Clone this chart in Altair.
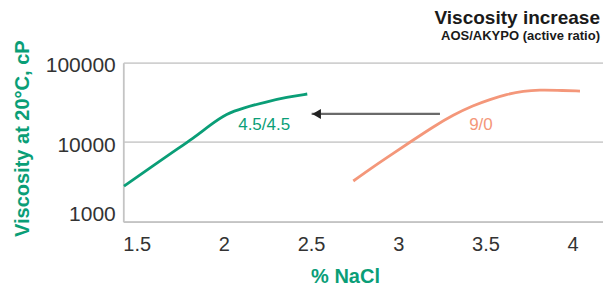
import altair as alt
import pandas as pd

# ---- data ----
green_nacl = [1.427, 1.710, 1.824, 1.920, 2.016, 2.111, 2.245, 2.360, 2.478]
green_visc = [2800, 7600, 11200, 16400, 23000, 27000, 32300, 36700, 40400]
orange_nacl = [2.742, 2.857, 2.971, 3.086, 3.201, 3.315, 3.430, 3.526, 3.621, 3.717, 3.812, 3.908, 4.042]
orange_visc = [3250, 4920, 7240, 10660, 15670, 22000, 29000, 34500, 40000, 44000, 45400, 45000, 44000]
series_names = ["4.5/4.5", "9/0"]
label_nacl = [2.231, 3.474]
label_visc = [16600, 16600]
arrow_from = [3.239]
arrow_to = [2.503]
arrow_visc = [22650]
x_ticks = [1.5, 2, 2.5, 3, 3.5, 4]
y_ticks = [1000, 10000, 100000]

GREEN = "#0a9e77"
ORANGE = "#f4977a"
FONT = "Liberation Sans"

lines = pd.DataFrame(
    {
        "nacl": green_nacl + orange_nacl,
        "visc": green_visc + orange_visc,
        "series": [series_names[0]] * len(green_nacl) + [series_names[1]] * len(orange_nacl),
    }
)
labels = pd.DataFrame({"nacl": label_nacl, "visc": label_visc, "series": series_names})
arrow = pd.DataFrame({"x1": arrow_from, "x2": arrow_to, "visc": arrow_visc})

xscale = alt.Scale(domain=[1.423, 4.174], nice=False, zero=False)
yscale = alt.Scale(type="log", domain=[1000, 100000], nice=False)
cscale = alt.Scale(domain=series_names, range=[GREEN, ORANGE])

xaxis = alt.Axis(
    values=x_ticks,
    format="~g",
    grid=False,
    ticks=False,
    domain=True,
    domainColor="#c4c4c4",
    domainWidth=1.8,
    labelFont=FONT,
    labelFontSize=20,
    labelColor="#333333",
    labelPadding=13,
    labelBaseline="top",
    title="% NaCl",
    titleFont=FONT,
    titleFontSize=20,
    titleFontWeight="bold",
    titleColor=GREEN,
    titleX=221.7,
    titleY=61,
    titleAlign="center",
    titleBaseline="alphabetic",
)
yaxis = alt.Axis(
    values=y_ticks,
    format="d",
    grid=True,
    gridColor="#d0d0d0",
    gridWidth=1.8,
    ticks=False,
    domain=True,
    domainColor="#c4c4c4",
    domainWidth=1.8,
    labelFont=FONT,
    labelFontSize=21,
    labelColor="#333333",
    labelPadding=8,
    labelBaseline="middle",
    labelOffset={"condition": {"test": "datum.value === 1000", "value": -7}, "value": 3},
    title="Viscosity at 20°C, cP",
    titleFont=FONT,
    titleFontSize=20,
    titleFontWeight="bold",
    titleColor=GREEN,
    titleAngle=270,
    titleX=-95,
    titleY=75.5,
    titleAlign="center",
    titleBaseline="alphabetic",
)

line_layer = alt.Chart(lines).mark_line(strokeWidth=2.8, interpolate="basis").encode(
    x=alt.X("nacl:Q", scale=xscale, axis=xaxis),
    y=alt.Y("visc:Q", scale=yscale, axis=yaxis),
    color=alt.Color("series:N", scale=cscale, legend=None),
)

text_layer = alt.Chart(labels).mark_text(
    font=FONT, fontSize=17, align="center", baseline="middle"
).encode(
    x="nacl:Q",
    y="visc:Q",
    text="series:N",
    color=alt.Color("series:N", scale=cscale, legend=None),
)

arrow_line = alt.Chart(arrow).mark_rule(color="#6a6a6a", strokeWidth=2.3).encode(
    x="x1:Q", x2="x2:Q", y="visc:Q"
)
arrow_head = alt.Chart(arrow).mark_point(
    shape="triangle-left", filled=True, size=100, color="#222222", opacity=1, xOffset=5
).encode(x="x2:Q", y="visc:Q")

chart = (
    alt.layer(line_layer, text_layer, arrow_line, arrow_head)
    .properties(
        width=479.7,
        height=159,
        autosize=alt.AutoSizeParams(type="none"),
        padding={"left": 115.3, "top": 54.7, "right": 0, "bottom": 64.3},
        title=alt.TitleParams(
            text="Viscosity increase",
            subtitle="AOS/AKYPO (active ratio)",
            anchor="end",
            frame="group",
            font=FONT,
            subtitleFont=FONT,
            fontSize=19,
            subtitleFontSize=13,
            fontWeight="bold",
            subtitleFontWeight="bold",
            color="#1a1a1a",
            subtitleColor="#1a1a1a",
            offset=14,
            subtitlePadding=2,
            dx=-3,
            dy=17,
        ),
    )
    .configure_view(stroke=None)
)

chart.save("out.html", embed_options={"renderer": "svg", "actions": False})
